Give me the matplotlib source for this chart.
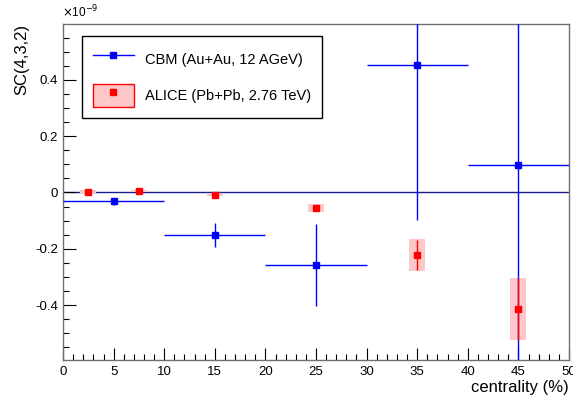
import matplotlib
matplotlib.use('Agg')
import matplotlib.pyplot as plt
import matplotlib.ticker as ticker
from matplotlib.patches import Rectangle
from matplotlib.lines import Line2D
import numpy as np

plt.rcParams['font.family'] = ['Liberation Sans', 'DejaVu Sans']

#------------------------------------------------------------------------------
# DATA (in units of 1e-9)

# CBM (Au+Au, 12 AGeV)
cbm_x    = [5, 15, 25, 35, 45]
cbm_xerr = [5, 5, 5, 5, 5]
cbm_y    = [-0.032, -0.152, -0.258, 0.453, 0.099]
cbm_yerr = [0.012, 0.042, 0.145, 0.55, 0.75]

# ALICE (Pb+Pb, 2.76 TeV)
alice_x    = [2.5, 7.5, 15, 25, 35, 45]
alice_y    = [0.003, 0.005, -0.008, -0.055, -0.222, -0.413]
alice_stat = [0.004, 0.004, 0.005, 0.012, 0.053, 0.11]
alice_sys  = [0.005, 0.005, 0.006, 0.015, 0.056, 0.11]
alice_bw   = 0.8   # half width of the systematic box

#------------------------------------------------------------------------------
# PLOT THE GRAPH

fig = plt.figure(figsize=(5.73, 3.96), dpi=100)
ax = fig.add_axes([0.110, 0.091, 0.883, 0.848])

# zero line
ax.axhline(0, color='#1c1c8c', lw=1.0, zorder=1)

# ALICE systematic boxes
for x, y, s in zip(alice_x, alice_y, alice_sys):
    ax.add_patch(Rectangle((x - alice_bw, y - s), 2 * alice_bw, 2 * s,
                           facecolor='#ffc8c8', edgecolor='none', zorder=2))

# ALICE stat
ax.errorbar(alice_x, alice_y, yerr=alice_stat, fmt='s', color='red', ms=5,
            elinewidth=1.0, capsize=0, zorder=4)

# CBM
ax.errorbar(cbm_x, cbm_y, xerr=cbm_xerr, yerr=cbm_yerr, fmt='s', color='blue',
            ms=5, elinewidth=1.0, capsize=0, zorder=3)

# Format axes
ax.set_xlim(0, 50)
ax.set_ylim(-0.595, 0.598)
ax.xaxis.set_major_locator(ticker.MultipleLocator(5))
ax.xaxis.set_minor_locator(ticker.MultipleLocator(1))
ax.yaxis.set_major_locator(ticker.MultipleLocator(0.2))
ax.yaxis.set_minor_locator(ticker.MultipleLocator(0.05))
ax.yaxis.set_major_formatter(ticker.FuncFormatter(lambda v, p: '0' if abs(v) < 1e-9 else '%.1f' % v))
ax.tick_params(which='both', direction='in', top=False, right=False, labelsize=9.5, colors='black')
ax.tick_params(which='major', length=9, width=0.8)
ax.tick_params(which='minor', length=4.5, width=0.8)
ax.tick_params(axis='x', pad=4)
for sp in ax.spines.values():
    sp.set_color('#707070')
    sp.set_linewidth(1.0)

ax.set_ylabel('SC(4,3,2)', fontsize=12, loc='top')
ax.set_xlabel('centrality (%)', fontsize=12, loc='right', labelpad=2)
fig.text(0.108, 0.948, r'$\times$10$^{-9}$', fontsize=8.5, ha='left', va='bottom')

# Legend
h1 = Line2D([], [], color='blue', marker='s', ms=5, lw=1)
h2 = (Rectangle((0, 0), 1, 1, facecolor='#ffc8c8', edgecolor='red', lw=1),
      Line2D([], [], color='red', marker='s', ms=5, ls='none'))
leg = ax.legend([h1, h2], ['CBM (Au+Au, 12 AGeV)', 'ALICE (Pb+Pb, 2.76 TeV)'],
                loc='upper left', bbox_to_anchor=(0.0375, 0.964), borderaxespad=0,
                fontsize=10.5, fancybox=False, framealpha=1, edgecolor='black',
                handlelength=2.8, handleheight=2.1, labelspacing=0.9, borderpad=0.75,
                handletextpad=0.75)
leg.get_frame().set_linewidth(1.0)

fig.savefig('out.png', dpi=100)
